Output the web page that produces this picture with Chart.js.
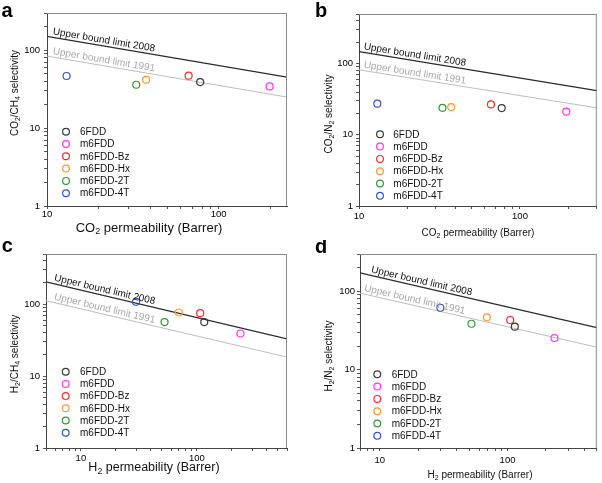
<!DOCTYPE html>
<html><head><meta charset="utf-8">
<script src="https://cdn.jsdelivr.net/npm/chart.js@4.4.1/dist/chart.umd.min.js"></script>
<style>
html,body{margin:0;padding:0;background:#fff;}
#wrap{position:relative;width:602px;height:483px;overflow:hidden;background:#fff;}
canvas{position:absolute;}
</style></head><body><div id="wrap">
<canvas id="ca" width="300" height="240" style="left:0px;top:0px"></canvas>
<canvas id="cb" width="302" height="240" style="left:300px;top:0px"></canvas>
<canvas id="cc" width="300" height="243" style="left:0px;top:240px"></canvas>
<canvas id="cd" width="302" height="243" style="left:300px;top:240px"></canvas>
</div>
<script>
// ---------- data ----------
const seriesNames = ['6FDD', 'm6FDD', 'm6FDD-Bz', 'm6FDD-Hx', 'm6FDD-2T', 'm6FDD-4T'];

// panel a: CO2 permeability vs CO2/CH4 selectivity
const co2PermA = [78, 198, 66.8, 37.8, 33.1, 13.0];
const co2ch4Sel = [38.9, 34.3, 47, 41.6, 36, 46.6];
// panel b: CO2 permeability vs CO2/N2 selectivity
const co2PermB = [77, 194, 66, 37.4, 33, 13.0];
const co2n2Sel = [23.8, 21.2, 26.8, 24.6, 24, 27.4];
// panel c: H2 permeability vs H2/CH4 selectivity
const h2PermC = [116, 238, 107, 70, 52.7, 29.9];
const h2ch4Sel = [56.4, 39.2, 75, 76.8, 56.4, 108];
// panel d: H2 permeability vs H2/N2 selectivity
const h2PermD = [114, 233, 105, 68.9, 52.2, 29.8];
const h2n2Sel = [35.4, 25.4, 43.1, 46.6, 38.6, 61.8];

// upper bound lines (end points)
const ubA2008X = [10, 250], ubA2008Y = [150, 45];
const ubA1991X = [10, 250], ubA1991Y = [84, 25];
const ubB2008X = [10, 300], ubB2008Y = [148, 42];
const ubB1991X = [10, 300], ubB1991Y = [82, 24];
const ubC2008X = [5, 600], ubC2008Y = [205, 33];
const ubC1991X = [5, 600], ubC1991Y = [112, 18.4];
const ubD2008X = [7, 500], ubD2008Y = [172, 34.5];
const ubD1991X = [7, 500], ubD1991Y = [95, 19.4];

const ubLabels = ['Upper bound limit 2008', 'Upper bound limit 1991'];

// tick labels
const xTickLabels = [10, 100];
const yTickLabels = [1, 10, 100];

// axis titles (_x = subscript)
const yTitles = ['CO_2/CH_4 selectivity', 'CO_2/N_2 selectivity', 'H_2/CH_4 selectivity', 'H_2/N_2 selectivity'];
const xTitles = ['CO_2 permeability (Barrer)', 'CO_2 permeability (Barrer)', 'H_2 permeability (Barrer)', 'H_2 permeability (Barrer)'];
const panelLetters = ['a', 'b', 'c', 'd'];

// ---------- style ----------
const seriesColors = ['#3a3a3a', '#ff33ff', '#ff2a2a', '#ff9933', '#339933', '#3355cc'];
const FONT = '"Liberation Sans", Arial, Helvetica, sans-serif';

const panels = [
  {id:'ca', xs:co2PermA, ys:co2ch4Sel, xr:[10,250], yr:[1,300], ub:[[ubA2008X,ubA2008Y],[ubA1991X,ubA1991Y]],
   area:{left:47, top:13, right:287, bottom:206}, yT:[15,93], xT:[149,228], xTs:13, let:[1.5,16.7],
   leg:{cx:66, y0:131.7, step:12.3, tx:80}, ubdx:[5,5], xpad:0, ypad:4},
  {id:'cb', xs:co2PermB, ys:co2n2Sel, xr:[10,300], yr:[1,500], ub:[[ubB2008X,ubB2008Y],[ubB1991X,ubB1991Y]],
   area:{left:59, top:14, right:299, bottom:206}, yT:[29.3,114], xT:[178,233], xTs:10, let:[15,16.7],
   leg:{cx:80, y0:134.3, step:12.3, tx:93.3}, ubdx:[4,4], xpad:2, ypad:3},
  {id:'cc', xs:h2PermC, ys:h2ch4Sel, xr:[5,600], yr:[1,500], ub:[[ubC2008X,ubC2008Y],[ubC1991X,ubC1991Y]],
   area:{left:46, top:14, right:287, bottom:208}, yT:[15,114], xT:[154,227.7], xTs:12.5, let:[1.7,12.3],
   leg:{cx:65.7, y0:131.7, step:12.2, tx:80}, ubdx:[7,7], xpad:2, ypad:3},
  {id:'cd', xs:h2PermD, ys:h2n2Sel, xr:[7,500], yr:[1,300], ub:[[ubD2008X,ubD2008Y],[ubD1991X,ubD1991Y]],
   area:{left:60, top:14, right:300, bottom:208}, yT:[29.3,116], xT:[180,235], xTs:10, let:[15,13.3],
   leg:{cx:77.3, y0:134.3, step:12.3, tx:91.7}, ubdx:[10,3], xpad:4, ypad:2}
];

function logTicks(min, max) {
  const out = [];
  for (let d = Math.floor(Math.log10(min)); d <= Math.ceil(Math.log10(max)); d++) {
    for (let m = 1; m <= 9; m++) {
      const v = m * Math.pow(10, d);
      if (v >= min - 1e-9 && v <= max + 1e-9) out.push(v);
    }
  }
  return out;
}

function drawRich(ctx, str, cx, cy, size, rot, color) {
  const segs = [];
  for (let i = 0; i < str.length; i++) {
    if (str[i] === '_' && i + 1 < str.length) { segs.push([str[i+1], true]); i++; }
    else {
      if (segs.length && !segs[segs.length-1][1]) segs[segs.length-1][0] += str[i];
      else segs.push([str[i], false]);
    }
  }
  let total = 0;
  const widths = segs.map(s => {
    ctx.font = (s[1] ? size*0.7 : size) + 'px ' + FONT;
    const w = ctx.measureText(s[0]).width; total += w; return w;
  });
  ctx.save();
  ctx.translate(cx, cy);
  ctx.rotate(rot);
  ctx.fillStyle = color;
  ctx.textBaseline = 'middle';
  ctx.textAlign = 'left';
  let x = -total/2;
  segs.forEach((s, i) => {
    ctx.font = (s[1] ? size*0.7 : size) + 'px ' + FONT;
    ctx.fillText(s[0], x, s[1] ? size*0.3 : 0);
    x += widths[i];
  });
  ctx.restore();
}

const extrasPlugin = {
  id: 'extras',
  afterDraw(chart) {
    const p = chart.options.plugins.extras.panel;
    const idx = chart.options.plugins.extras.index;
    const ctx = chart.ctx;
    const a = chart.chartArea;
    ctx.save();
    // top and right frame
    ctx.strokeStyle = '#8a8a8a';
    ctx.lineWidth = 1;
    ctx.beginPath();
    ctx.moveTo(a.left, a.top + 0.5); ctx.lineTo(a.right, a.top + 0.5);
    ctx.moveTo(a.right - 0.5, a.top); ctx.lineTo(a.right - 0.5, a.bottom);
    ctx.stroke();
    // upper bound labels
    chart.data.datasets.forEach((ds, i) => {
      if (!ds.ubLabel) return;
      const pts = chart.getDatasetMeta(i).data;
      const p0 = pts[0], p1 = pts[1];
      const ang = Math.atan2(p1.y - p0.y, p1.x - p0.x);
      const x = a.left + ds.ubLabel.dx;
      const y = p0.y + (x - p0.x) * (p1.y - p0.y) / (p1.x - p0.x);
      ctx.save();
      ctx.translate(x, y);
      ctx.rotate(ang);
      ctx.font = '10px ' + FONT;
      ctx.fillStyle = ds.ubLabel.color;
      ctx.textBaseline = 'alphabetic';
      ctx.textAlign = 'left';
      ctx.fillText(ds.label, 0, -3);
      ctx.restore();
    });
    // legend
    seriesNames.forEach((name, i) => {
      const cy = p.leg.y0 + i * p.leg.step;
      ctx.beginPath();
      ctx.arc(p.leg.cx, cy, 3.4, 0, Math.PI*2);
      ctx.strokeStyle = seriesColors[i];
      ctx.lineWidth = 1.2;
      ctx.stroke();
      ctx.font = '10px ' + FONT;
      ctx.fillStyle = '#111';
      ctx.textBaseline = 'middle';
      ctx.textAlign = 'left';
      ctx.fillText(name, p.leg.tx, cy + 0.5);
    });
    // axis titles
    drawRich(ctx, yTitles[idx], p.yT[0], p.yT[1], 10, -Math.PI/2, '#111');
    drawRich(ctx, xTitles[idx], p.xT[0], p.xT[1], p.xTs, 0, '#111');
    // panel letter
    ctx.font = 'bold 20px ' + FONT;
    ctx.fillStyle = '#000';
    ctx.textBaseline = 'alphabetic';
    ctx.textAlign = 'left';
    ctx.fillText(panelLetters[idx], p.let[0], p.let[1]);
    ctx.restore();
  }
};

panels.forEach((p, idx) => {
  const canvas = document.getElementById(p.id);
  const W = canvas.width, H = canvas.height;
  const datasets = seriesNames.map((name, i) => ({
    label: name,
    type: 'scatter',
    data: [{x: p.xs[i], y: p.ys[i]}],
    pointStyle: 'circle',
    pointRadius: 3.5,
    borderColor: seriesColors[i],
    backgroundColor: 'rgba(255,255,255,0)',
    borderWidth: 1.2,
    order: 0
  }));
  const ubColors = ['#2a2a2a', '#bdbdbd'];
  const ubText = ['#111111', '#a8a8a8'];
  p.ub.forEach((u, k) => {
    datasets.push({
      label: ubLabels[k],
      type: 'line',
      data: u[0].map((x, j) => ({x: x, y: u[1][j]})),
      borderColor: ubColors[k],
      borderWidth: k === 0 ? 1.3 : 1,
      pointRadius: 0,
      fill: false,
      tension: 0,
      order: 1,
      ubLabel: {color: ubText[k], dx: p.ubdx[k]}
    });
  });
  const tickFont = {family: FONT, size: 9.5};
  new Chart(canvas, {
    type: 'scatter',
    data: {datasets},
    options: {
      responsive: false,
      animation: false,
      devicePixelRatio: 1,
      layout: {padding: {left: 0, top: p.area.top, right: W - p.area.right, bottom: 0}},
      plugins: {
        legend: {display: false},
        tooltip: {enabled: false},
        extras: {panel: p, index: idx}
      },
      scales: {
        x: {
          type: 'logarithmic', min: p.xr[0], max: p.xr[1],
          afterBuildTicks: s => { s.ticks = logTicks(p.xr[0], p.xr[1]).map(v => ({value: v})); },
          afterFit: s => { s.height = H - p.area.bottom; },
          ticks: {autoSkip: false, maxRotation: 0, minRotation: 0, padding: p.xpad, color: '#000', font: tickFont,
                  callback: v => xTickLabels.includes(v) ? String(v) : ''},
          grid: {display: true, drawOnChartArea: false, drawTicks: true, tickLength: 3, color: '#555'},
          border: {display: true, color: '#444', width: 1}
        },
        y: {
          type: 'logarithmic', min: p.yr[0], max: p.yr[1],
          afterBuildTicks: s => { s.ticks = logTicks(p.yr[0], p.yr[1]).map(v => ({value: v})); },
          afterFit: s => { s.width = p.area.left; },
          ticks: {autoSkip: false, padding: p.ypad, color: '#000', font: tickFont,
                  callback: v => yTickLabels.includes(v) ? String(v) : ''},
          grid: {display: true, drawOnChartArea: false, drawTicks: true, tickLength: 3, color: '#555'},
          border: {display: true, color: '#444', width: 1}
        }
      }
    },
    plugins: [extrasPlugin]
  });
});
</script>
</body></html>
